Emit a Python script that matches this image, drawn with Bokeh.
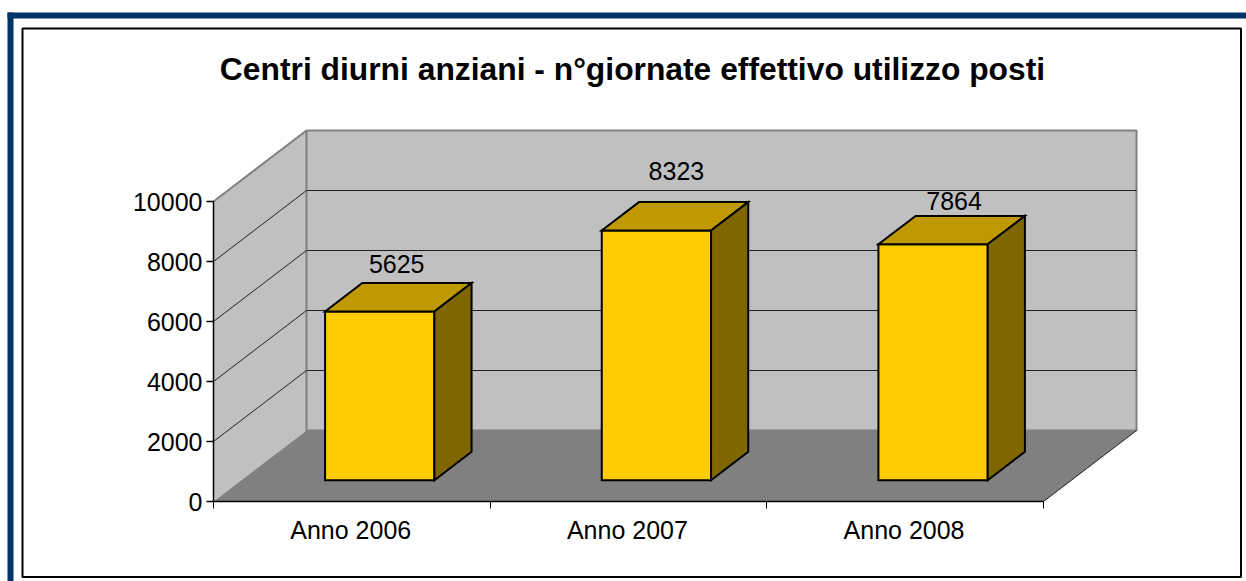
from bokeh.plotting import figure
from bokeh.models import BoxAnnotation, LinearAxis, FixedTicker, Range1d
from bokeh.core.properties import value
from bokeh.embed import file_html
from bokeh.resources import INLINE

TITLE = "Centri diurni anziani - n°giornate effettivo utilizzo posti"
categories = ["Anno 2006", "Anno 2007", "Anno 2008"]
series_values = [5625, 8323, 7864]
y_ticks = [0, 2000, 4000, 6000, 8000, 10000]

W, H = 1246, 581
X0, X_UNIT = 213, 830 / 3      # pixel of category 0, pixels per category
Y0, Y_UNIT = 501, 300 / 10000  # pixel of value 0, pixels per value unit
DEPTH_X = 93 / X_UNIT          # floor depth in category units
DEPTH_Y = 71 / Y_UNIT          # floor depth in value units
Y_MAX = y_ticks[-1]
N = len(categories)
FONT = "Liberation Sans"


def proj(x, y, z=0.0):
    return x + z * DEPTH_X, y + z * DEPTH_Y


def poly(pts):
    pr = [proj(*q) for q in pts]
    return [a for a, _ in pr], [b for _, b in pr]


p = figure(
    width=W, height=H, output_backend="svg", toolbar_location=None,
    x_range=Range1d(-X0 / X_UNIT, (W - X0) / X_UNIT),
    y_range=Range1d((Y0 - H) / Y_UNIT, Y0 / Y_UNIT),
    x_axis_location=None, y_axis_location=None,
    min_border=0, outline_line_color=None, background_fill_color="white",
)
p.grid.visible = False


def screen_box(l, r, t, b, **kw):
    # screen units count from the bottom of the canvas for the vertical edges
    p.add_layout(BoxAnnotation(left=l, right=r, top=H - t, bottom=H - b, left_units="screen", right_units="screen",
                               top_units="screen", bottom_units="screen", fill_alpha=1, level="underlay", **kw))


# Page decoration: blue band and black chart frame
screen_box(7, W, 12, 18, fill_color="#003366", line_color=None)
screen_box(7, 13, 12, H, fill_color="#003366", line_color=None)
screen_box(22, 1240.5, 28, 576.5, fill_color="white", line_color="black", line_alpha=1, line_width=2)

# Walls and floor
sx, sy = poly([(0, 0, 0), (0, Y_MAX, 0), (0, Y_MAX, 1), (0, 0, 1)])
p.patch(sx, sy, fill_color="#c0c0c0", line_color=None)
bx, by = poly([(0, 0, 1), (0, Y_MAX, 1), (N, Y_MAX, 1), (N, 0, 1)])
p.patch(bx, by, fill_color="#c0c0c0", line_color="#808080", line_width=2)
tx, ty = poly([(0, Y_MAX, 0), (0, Y_MAX, 1)])
p.line(tx, ty, line_color="#808080", line_width=2)
fx, fy = poly([(0, 0, 0), (N, 0, 0), (N, 0, 1), (0, 0, 1)])
p.patch(fx, fy, fill_color="#808080", line_color=None)
ex, ey = poly([(N, 0, 0), (N, 0, 1)])
p.line(ex, ey, line_color="#202020", line_width=1)

# Grid lines on the side wall and on the back wall
gx, gy = [], []
for t in y_ticks[1:-1]:
    a, b = poly([(0, t, 0), (0, t, 1), (N, t, 1)])
    gx.append(a)
    gy.append(b)
p.multi_line(gx, gy, line_color="#202020", line_width=1)

# Bars
Z0, Z1, BW = 0.3, 0.7, 0.395
LABEL_NUDGE_X = [-1, 2, 3]
LABEL_NUDGE_Y = [-47, -60, -43]
FRONT, TOP, SIDE = "#ffcc00", "#c09900", "#806600"
for i, v in enumerate(series_values):
    x0, x1 = i + 0.5 - BW / 2, i + 0.5 + BW / 2
    for pts, col in [
        ([(x0, 0, Z0), (x1, 0, Z0), (x1, v, Z0), (x0, v, Z0)], FRONT),
        ([(x0, v, Z0), (x1, v, Z0), (x1, v, Z1), (x0, v, Z1)], TOP),
        ([(x1, 0, Z0), (x1, 0, Z1), (x1, v, Z1), (x1, v, Z0)], SIDE),
    ]:
        a, b = poly(pts)
        p.patch(a, b, fill_color=col, line_color="black", line_width=2, line_join="miter")
    lx, ly = proj(i + 0.5, v, Z0)
    p.text([lx + 0.065], [ly], text=[str(v)], text_font=value(FONT), text_font_size="25px", text_color="black",
           text_align="center", text_baseline="middle", x_offset=LABEL_NUDGE_X[i], y_offset=LABEL_NUDGE_Y[i])

# Axes
yaxis = LinearAxis(fixed_location=0, bounds=(0, Y_MAX), ticker=FixedTicker(ticks=y_ticks),
                   major_tick_in=0, major_tick_out=7, minor_tick_line_color=None,
                   axis_line_color="black", axis_line_width=1.5, major_tick_line_color="black",
                   major_tick_line_width=1.5, major_label_text_font=FONT, major_label_text_font_size="25px",
                   major_label_text_color="black", major_label_standoff=4)
p.add_layout(yaxis, "left")
xaxis = LinearAxis(fixed_location=0, bounds=(0, N), ticker=FixedTicker(ticks=list(range(N + 1))),
                   major_tick_in=0, major_tick_out=7, minor_tick_line_color=None,
                   axis_line_color="black", axis_line_width=1.5, major_tick_line_color="black",
                   major_tick_line_width=1, major_label_text_color=None, major_label_text_font_size="1px")
p.add_layout(xaxis, "below")
xlab = LinearAxis(fixed_location=0, bounds=(0, N), ticker=FixedTicker(ticks=[i + 0.5 - 0.004 for i in range(N)]),
                  major_label_overrides={i + 0.5 - 0.004: c for i, c in enumerate(categories)},
                  major_tick_line_color=None, minor_tick_line_color=None, axis_line_color=None,
                  major_label_text_font=FONT, major_label_text_font_size="25px", major_label_text_color="black",
                  major_label_standoff=8)
p.add_layout(xlab, "below")

# Title
tx0 = (632 - X0) / X_UNIT
ty0 = (Y0 - 68) / Y_UNIT
p.text([tx0], [ty0], text=[TITLE], text_font=value(FONT), text_font_style="bold", text_font_size="31.8px",
       text_color="black", text_align="center", text_baseline="middle")

open("out.html", "w").write(file_html(p, INLINE))
